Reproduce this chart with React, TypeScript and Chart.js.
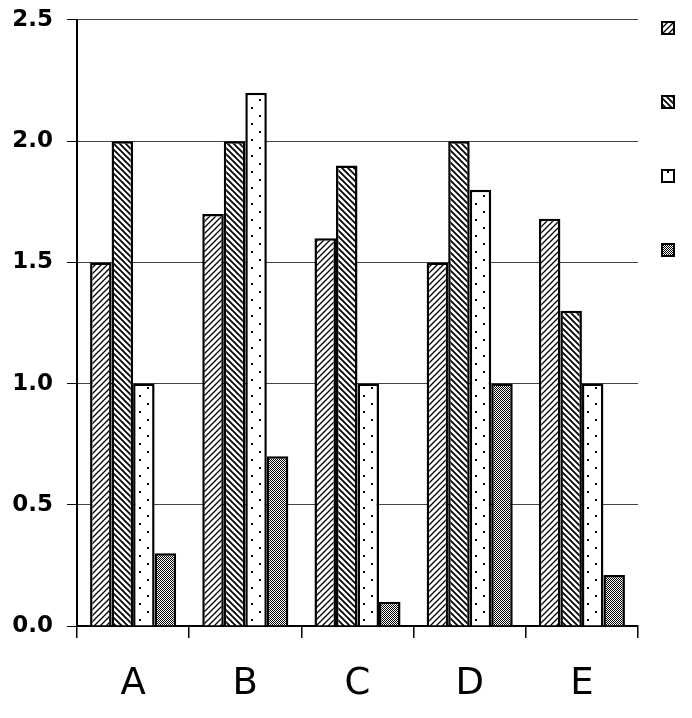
import React, { useEffect, useRef } from "react";
import { Chart, registerables } from "chart.js";

Chart.register(...registerables);

const categories = ["A", "B", "C", "D", "E"];
const series1 = [1.5, 1.7, 1.6, 1.5, 1.68];
const series2 = [2.0, 2.0, 1.9, 2.0, 1.3];
const series3 = [1.0, 2.2, 1.0, 1.8, 1.0];
const series4 = [0.3, 0.7, 0.1, 1.0, 0.21];
const yMin = 0;
const yMax = 2.5;
const yStep = 0.5;

function makeTile(size: number, draw: (ctx: CanvasRenderingContext2D) => void): CanvasPattern {
  const c = document.createElement("canvas");
  c.width = size;
  c.height = size;
  const ctx = c.getContext("2d")!;
  ctx.fillStyle = "#fff";
  ctx.fillRect(0, 0, size, size);
  draw(ctx);
  const p = document.createElement("canvas").getContext("2d")!.createPattern(c, "repeat")!;
  return p;
}

function hatch(forward: boolean, width: number): CanvasPattern {
  const s = 6;
  return makeTile(s, (ctx) => {
    ctx.strokeStyle = "#000";
    ctx.lineWidth = width;
    ctx.beginPath();
    if (forward) {
      ctx.moveTo(0, s); ctx.lineTo(s, 0);
      ctx.moveTo(-1, 1); ctx.lineTo(1, -1);
      ctx.moveTo(s - 1, s + 1); ctx.lineTo(s + 1, s - 1);
    } else {
      ctx.moveTo(0, 0); ctx.lineTo(s, s);
      ctx.moveTo(-1, s - 1); ctx.lineTo(1, s + 1);
      ctx.moveTo(s - 1, -1); ctx.lineTo(s + 1, 1);
    }
    ctx.stroke();
  });
}

function dots(): CanvasPattern {
  return makeTile(16, (ctx) => {
    ctx.fillStyle = "#000";
    ctx.fillRect(3, 3, 2, 2);
    ctx.fillRect(11, 11, 2, 2);
  });
}

function checker(): CanvasPattern {
  return makeTile(2, (ctx) => {
    ctx.fillStyle = "#000";
    ctx.fillRect(0, 0, 1, 1);
    ctx.fillRect(1, 1, 1, 1);
  });
}

export default function App() {
  const ref = useRef<HTMLCanvasElement | null>(null);

  useEffect(() => {
    if (!ref.current) return;
    const fills = [hatch(true, 1.3), hatch(false, 1.8), dots(), checker()];
    const values = [series1, series2, series3, series4];
    const chart = new Chart(ref.current, {
      type: "bar",
      data: {
        labels: categories,
        datasets: values.map((v, i) => ({
          label: "",
          data: v,
          backgroundColor: fills[i],
          borderColor: "#000",
          borderWidth: 2.5,
          categoryPercentage: 0.767,
          barPercentage: 1,
        })),
      },
      options: {
        responsive: false,
        animation: false,
        layout: { padding: { top: -21, right: 0, left: 0, bottom: 0 } },
        plugins: {
          tooltip: { enabled: false },
          legend: {
            position: "right",
            align: "start",
            maxWidth: 54,
            labels: {
              boxWidth: 12,
              boxHeight: 12,
              padding: 24,
              font: { size: 50 },
              generateLabels: (c: any) =>
                Chart.defaults.plugins.legend.labels.generateLabels(c).map((l: any) => ({ ...l, text: "", lineWidth: 2 })),
            },
          },
        },
        scales: {
          x: {
            offset: true,
            grid: {
              offset: true,
              drawOnChartArea: false,
              drawTicks: true,
              tickLength: 12,
              color: "#000",
              lineWidth: 1.5,
            },
            border: { color: "#000", width: 2 },
            ticks: {
              color: "#000",
              padding: 24,
              font: { family: "DejaVu Sans", size: 37 },
            },
            afterFit: (s: any) => { s.height = 92; },
          },
          y: {
            min: yMin,
            max: yMax,
            ticks: {
              stepSize: yStep,
              color: "#000",
              padding: 14,
              font: { family: "DejaVu Sans", size: 23, weight: "bold", lineHeight: 0.52 },
              callback: (v: any) => Number(v).toFixed(1),
            },
            grid: {
              color: "#444",
              lineWidth: 1,
              tickLength: 10,
              tickColor: "#000",
            },
            border: { color: "#000", width: 2 },
            afterFit: (s: any) => { s.width = 77; },
          },
        },
      },
    });
    return () => chart.destroy();
  }, []);

  return (
    <div style={{ position: "fixed", left: 0, top: 0, width: 692, height: 718, background: "#fff" }}>
      <canvas ref={ref} width={692} height={718} />
    </div>
  );
}
